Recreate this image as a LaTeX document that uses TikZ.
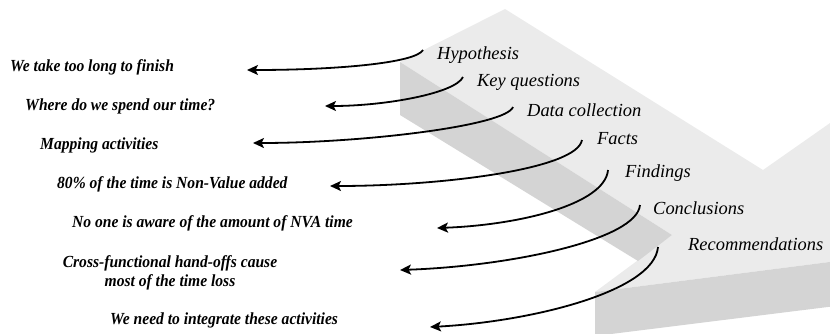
\documentclass[tikz,border=0pt]{standalone}
\usepackage{fontspec}
\setmainfont{Liberation Serif}
\newfontfamily\resultfont{Liberation Serif}[FakeStretch=0.92]
\usetikzlibrary{arrows.meta}

\begin{document}
\begin{tikzpicture}[x=1bp, y=1bp,
	stage/.style={anchor=west, inner sep=0pt, font=\fontsize{18.5}{20}\selectfont\itshape},
	result/.style={anchor=west, inner sep=0pt, align=center, font=\fontsize{17}{19.5}\selectfont\resultfont\bfseries\itshape},
	link/.style={line width=1.8bp, -{Stealth[length=11bp,width=10bp,inset=2.5bp]}}]

	\useasboundingbox (0,0) rectangle (830,-333);

	% the big bent arrow
	\begin{scope}
	\clip (0,0) rectangle (830,-333);
	\fill[black!8] (400,-62) -- (505,-9) -- (763,-170) -- (900,-74) -- (960,-170) -- (900,-253) -- (595,-292) -- (672,-235) -- cycle;
	\fill[black!17] (400,-62) -- (672,-235) -- (638,-261) -- (400,-115) -- cycle;
	\fill[black!17] (595,-292) -- (900,-253) -- (900,-298) -- (595,-336) -- cycle;
	\end{scope}

	\draw (437,-55) node[stage](hyp){Hypothesis};
	\draw (477,-82) node[stage](key){Key questions};
	\draw (527,-110) node[stage](data){Data collection};
	\draw (597,-139) node[stage](facts){Facts};
	\draw (625,-173) node[stage](find){Findings};
	\draw (653,-208) node[stage](concl){Conclusions};
	\draw (688,-244) node[stage](recom){Recommendations};

	\draw (10,-67) node[result](take){We take too long to finish};
	\draw (25,-106) node[result](where){Where do we spend our time?};
	\draw (40,-145) node[result](map){Mapping activities};
	\draw (57,-184) node[result](nva){80\% of the time is Non-Value added};
	\draw (72,-223) node[result](aware){No one is aware of the amount of NVA time};
	\draw (170,-273) node[result, anchor=center](cross){Cross-functional hand-offs cause\\most of the time loss};
	\draw (110,-320) node[result](integ){We need to integrate these activities};

	\draw [link]([shift={(-14,5)}]hyp.west) .. controls +(-120:15) and +(0:90) .. ([shift={(237,-3)}]take.west);
	\draw [link]([shift={(-14,5)}]key.west) .. controls +(-115:18) and +(0:60) .. ([shift={(300,0)}]where.west);
	\draw [link]([shift={(-14,3)}]data.west) .. controls +(-110:20) and +(0:110) .. ([shift={(213,2)}]map.west);
	\draw [link]([shift={(-15,-1)}]facts.west) .. controls +(-100:30) and +(0:110) .. ([shift={(273,-2)}]nva.west);
	\draw [link]([shift={(-17,3)}]find.west) .. controls +(-95:35) and +(2:80) .. ([shift={(365,-5)}]aware.west);
	\draw [link]([shift={(-13,3)}]concl.west) .. controls +(-95:35) and +(2:110) .. ([shift={(230,3)}]cross.center);
	\draw [link]([shift={(-30,-3)}]recom.west) .. controls +(-95:45) and +(3:100) .. ([shift={(320,-7)}]integ.west);
\end{tikzpicture}
\end{document}
